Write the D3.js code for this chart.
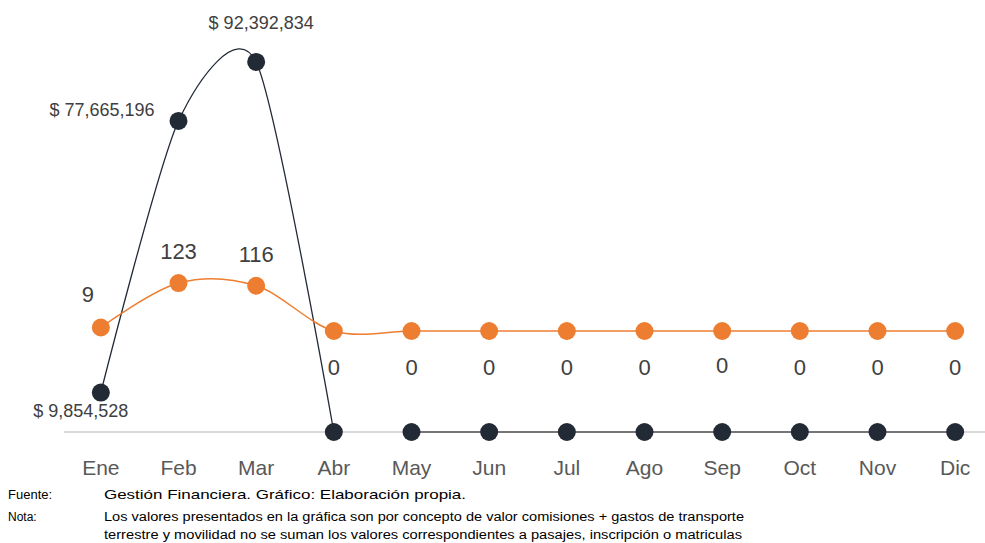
<!DOCTYPE html>
<html>
<head>
<meta charset="utf-8">
<script src="https://cdn.jsdelivr.net/npm/d3@7"></script>
<style>
  body { margin: 0; background: #fff; }
  svg { display: block; font-family: "Liberation Sans", Arial, sans-serif; }
</style>
</head>
<body>
<svg width="985" height="543"></svg>
<script>
const meses = ["Ene", "Feb", "Mar", "Abr", "May", "Jun", "Jul", "Ago", "Sep", "Oct", "Nov", "Dic"];
const montos = [9854528, 77665196, 92392834, 0, 0, 0, 0, 0, 0, 0, 0, 0];
const cantidades = [9, 123, 116, 0, 0, 0, 0, 0, 0, 0, 0, 0];
const fuente = "Gestión Financiera. Gráfico: Elaboración propia.";
const nota = [
    " Los valores presentados en la gráfica son por concepto de valor comisiones + gastos de transporte",
    "terrestre y movilidad no se suman los valores correspondientes a pasajes, inscripción o matriculas"
];

const svg = d3.select("svg");
const dark = "#222a35", orange = "#ed7d31";

const x = d3.scaleBand().domain(meses).range([62, 994]);
const cx = m => x(m) + x.bandwidth() / 2;
const yMonto = d3.scaleLinear().domain([0, 100000000]).range([432, 31.5]);
const yCant = d3.scaleLinear().domain([0, 250]).range([331, 233.5]);

// eje horizontal
svg.append("line")
    .attr("x1", 64).attr("x2", 985)
    .attr("y1", yMonto(0)).attr("y2", yMonto(0))
    .attr("stroke", "#d9d9d9").attr("stroke-width", 2);

// etiquetas de meses
svg.append("g").selectAll("text")
    .data(meses)
    .enter().append("text")
    .attr("x", d => cx(d))
    .attr("y", 475)
    .attr("text-anchor", "middle")
    .attr("font-size", 21)
    .attr("fill", "#595959")
    .text(d => d);

// serie de montos
const puntosMonto = meses.map((m, i) => ({ m, v: montos[i] }));
const lineaSuave = d3.line()
    .x(d => cx(d.m))
    .y(d => yMonto(d.v))
    .curve(d3.curveCardinal.tension(0.25));

svg.append("path")
    .datum(puntosMonto.slice(0, 4))
    .attr("d", lineaSuave)
    .attr("fill", "none")
    .attr("stroke", dark)
    .attr("stroke-width", 1.3);

svg.append("path")
    .datum(puntosMonto.slice(4))
    .attr("d", d3.line().x(d => cx(d.m)).y(d => yMonto(d.v)))
    .attr("fill", "none")
    .attr("stroke", "#767676")
    .attr("stroke-width", 2);

// serie de cantidades
const puntosCant = meses.map((m, i) => ({ m, v: cantidades[i] }));
svg.append("path")
    .datum(puntosCant)
    .attr("d", d3.line().x(d => cx(d.m)).y(d => yCant(d.v)).curve(d3.curveCardinal.tension(0)))
    .attr("fill", "none")
    .attr("stroke", orange)
    .attr("stroke-width", 1.5);

svg.append("g").selectAll("circle")
    .data(puntosMonto)
    .enter().append("circle")
    .attr("cx", d => cx(d.m))
    .attr("cy", d => yMonto(d.v))
    .attr("r", 9)
    .attr("fill", dark);

svg.append("g").selectAll("circle")
    .data(puntosCant)
    .enter().append("circle")
    .attr("cx", d => cx(d.m))
    .attr("cy", d => yCant(d.v))
    .attr("r", 9)
    .attr("fill", orange);

// etiquetas de montos (solo valores distintos de cero)
const fmt = v => "$ " + d3.format(",")(v);
const offMonto = [[-20, 24], [-24, -5], [5, -33]];
svg.append("g").selectAll("text")
    .data(puntosMonto.slice(0, 3))
    .enter().append("text")
    .attr("x", (d, i) => cx(d.m) + offMonto[i][0])
    .attr("y", (d, i) => yMonto(d.v) + offMonto[i][1])
    .attr("text-anchor", (d, i) => i === 1 ? "end" : "middle")
    .attr("font-size", 18)
    .attr("fill", "#404040")
    .text(d => fmt(d.v));

// etiquetas de cantidades
svg.append("g").selectAll("text")
    .data(puntosCant)
    .enter().append("text")
    .attr("x", (d, i) => cx(d.m) + (i === 0 ? -13 : 0))
    .attr("y", (d, i) => i < 3 ? yCant(d.v) - 24 + (i === 0 ? -1 : 0) : yCant(d.v) + 44 - (d.m === "Sep" ? 2 : 0))
    .attr("text-anchor", "middle")
    .attr("font-size", 22)
    .attr("fill", "#404040")
    .text(d => d.v);

// fuente y nota
const pie = svg.append("g").attr("font-size", 13).attr("fill", "#000");
pie.append("text").attr("x", 8).attr("y", 499).text("Fuente:");
pie.append("text").attr("x", 104).attr("y", 499)
    .attr("textLength", 362).attr("lengthAdjust", "spacingAndGlyphs").text(fuente);
pie.append("text").attr("x", 8).attr("y", 521).attr("font-size", 12).text("Nota:");
pie.append("text").attr("x", 104).attr("y", 521).attr("font-size", 12)
    .attr("textLength", 640).attr("lengthAdjust", "spacingAndGlyphs").text(nota[0]);
pie.append("text").attr("x", 104).attr("y", 539).attr("font-size", 12)
    .attr("textLength", 638).attr("lengthAdjust", "spacingAndGlyphs").text(nota[1]);
</script>
</body>
</html>
